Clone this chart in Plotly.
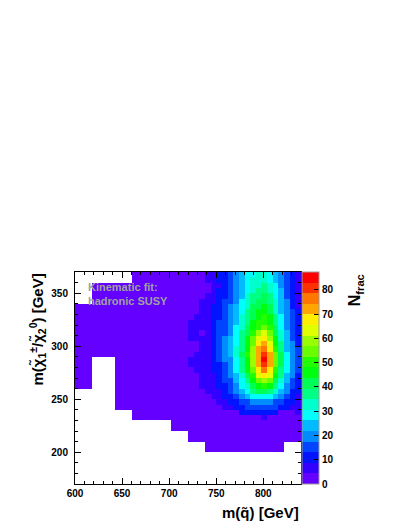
import colorsys
import plotly.graph_objects as go

# bin edges of the 2D histogram
m_squark_edges = [600, 606, 612, 618, 624, 630, 636, 642, 648, 654, 660, 666, 672, 678,
                  684, 690, 696, 702, 708, 714, 720, 726, 732, 738, 744, 750, 756, 762,
                  768, 774, 780, 786, 792, 798, 804, 810, 816, 822, 828, 834, 840]
m_chi_edges = [170, 175, 180, 185, 190, 195, 200, 205, 210, 215, 220, 225, 230, 235,
               240, 245, 250, 255, 260, 265, 270, 275, 280, 285, 290, 295, 300, 305,
               310, 315, 320, 325, 330, 335, 340, 345, 350, 355, 360, 365, 370]

o = None  # empty bin

# N_frac, one row per m(chi) bin, bottom (170 GeV) to top (370 GeV)
row_00 = [o] * 40
row_01 = [o] * 40
row_02 = [o] * 40
row_03 = [o] * 40
row_04 = [o] * 40
row_05 = [o] * 40
row_06 = [o] * 23 + [2] * 14 + [o] * 3
row_07 = [o] * 23 + [2] * 14 + [o] * 3
row_08 = [o] * 20 + [2] * 20
row_09 = [o] * 20 + [2] * 20
row_10 = [o] * 17 + [2] * 23
row_11 = [o] * 17 + [2] * 23
row_12 = [o] * 10 + [2] * 23 + [7] + [2] * 6
row_13 = [o] * 10 + [2] * 19 + [11, 11, 11, 11, 11, 11, 11, 2, 2, 2, 7]
row_14 = [o] * 7 + [2] * 13 + [2, 2, 2, 2, 2, 2, 7, 7, 11, 11, 15, 15, 15, 15, 15, 15, 11, 11, 7, 7]
row_15 = [o] * 7 + [2] * 13 + [2, 2, 2, 2, 2, 7, 7, 11, 11, 15, 15, 20, 20, 20, 20, 15, 15, 11, 11, 7]
row_16 = [o] * 7 + [2] * 13 + [2, 2, 2, 2, 7, 7, 11, 11, 15, 20, 24, 28, 28, 28, 28, 24, 20, 15, 11, 7]
row_17 = [o] * 7 + [2] * 13 + [2, 2, 2, 7, 7, 7, 11, 15, 20, 24, 28, 37, 41, 41, 37, 33, 24, 20, 11, 11]
row_18 = [2] * 3 + [o] * 4 + [2] * 13 + [2, 2, 7, 7, 7, 11, 11, 15, 20, 28, 33, 41, 46, 50, 46, 37, 28, 20, 15, 11]
row_19 = [2] * 3 + [o] * 4 + [2] * 13 + [2, 2, 7, 7, 7, 11, 15, 15, 24, 28, 37, 46, 55, 59, 55, 41, 33, 24, 15, 11]
row_20 = [2] * 3 + [o] * 4 + [2] * 13 + [2, 2, 7, 7, 7, 11, 15, 20, 24, 33, 41, 50, 63, 68, 63, 46, 37, 24, 20, 11]
row_21 = [2] * 3 + [o] * 4 + [2] * 13 + [2, 7, 7, 7, 11, 11, 15, 20, 28, 37, 46, 55, 68, 76, 68, 50, 37, 28, 20, 15]
row_22 = [2] * 3 + [o] * 4 + [2] * 13 + [7, 7, 7, 7, 11, 11, 15, 20, 28, 37, 46, 59, 72, 81, 72, 55, 41, 28, 20, 15]
row_23 = [2] * 3 + [o] * 4 + [2] * 13 + [7, 7, 7, 7, 11, 15, 20, 20, 28, 37, 46, 59, 72, 87.4, 72, 55, 41, 28, 20, 15]
row_24 = [2] * 20 + [2, 7, 7, 7, 11, 15, 20, 24, 33, 41, 50, 59, 72, 81, 72, 55, 41, 28, 20, 15]
row_25 = [2] * 20 + [2, 2, 7, 7, 11, 15, 20, 24, 33, 37, 46, 59, 72, 76, 68, 50, 37, 24, 20, 15]
row_26 = [2] * 20 + [2, 2, 7, 7, 11, 15, 20, 24, 28, 37, 46, 55, 68, 72, 63, 46, 37, 24, 20, 11]
row_27 = [2] * 20 + [7, 7, 7, 7, 11, 15, 20, 24, 28, 37, 46, 55, 63, 68, 59, 46, 33, 24, 15, 11]
row_28 = [2] * 20 + [7, 7, 2, 7, 11, 15, 15, 20, 28, 37, 41, 50, 59, 63, 55, 41, 33, 24, 15, 11]
row_29 = [2] * 20 + [7, 7, 7, 7, 11, 15, 15, 20, 28, 33, 41, 46, 50, 55, 50, 41, 28, 20, 15, 11]
row_30 = [2] * 20 + [7, 7, 7, 7, 11, 15, 15, 20, 24, 33, 37, 46, 50, 50, 46, 37, 28, 20, 15, 11]
row_31 = [2] * 20 + [2, 7, 7, 7, 11, 11, 15, 20, 24, 33, 37, 41, 46, 50, 46, 37, 28, 20, 15, 11]
row_32 = [2] * 20 + [2, 2, 7, 7, 11, 11, 15, 20, 24, 28, 37, 41, 46, 46, 41, 33, 24, 20, 15, 11]
row_33 = [2] * 20 + [2, 2, 7, 7, 11, 11, 15, 20, 24, 28, 33, 41, 41, 46, 41, 33, 24, 20, 11, 7]
row_34 = [o] * 3 + [2] * 17 + [2, 2, 7, 7, 7, 11, 15, 15, 20, 28, 33, 37, 41, 41, 37, 33, 24, 20, 11, 7]
row_35 = [o] * 3 + [2] * 17 + [2, 2, 2, 7, 7, 11, 11, 15, 20, 24, 33, 37, 37, 41, 37, 28, 24, 15, 11, 7]
row_36 = [o] * 3 + [2] * 17 + [2, 2, 2, 2, 7, 11, 11, 15, 20, 24, 28, 33, 37, 37, 33, 28, 24, 15, 11, 7]
row_37 = [o] * 3 + [2] * 17 + [2, 2, 2, 2, 7, 7, 11, 15, 20, 24, 28, 33, 33, 37, 33, 28, 20, 15, 11, 7]
row_38 = [o] * 10 + [2] * 10 + [2, 2, 2, 7, 7, 11, 11, 15, 20, 24, 28, 33, 33, 33, 28, 24, 20, 15, 11, 7]
row_39 = [o] * 10 + [2] * 10 + [2, 2, 2, 7, 7, 11, 11, 15, 20, 24, 28, 28, 33, 33, 28, 24, 20, 15, 11, 7]

n_frac = [row_00, row_01, row_02, row_03, row_04, row_05, row_06, row_07, row_08, row_09,
          row_10, row_11, row_12, row_13, row_14, row_15, row_16, row_17, row_18, row_19,
          row_20, row_21, row_22, row_23, row_24, row_25, row_26, row_27, row_28, row_29,
          row_30, row_31, row_32, row_33, row_34, row_35, row_36, row_37, row_38, row_39]

z_max = 87.4
z_ticks = [0, 10, 20, 30, 40, 50, 60, 70, 80]

# ROOT "pretty" palette (SetPalette(1)) sampled on 20 contour levels
n_levels = 20
scale = []
for k in range(n_levels):
    idx = int((k + 0.99) * 50 / n_levels)
    hue = 280 - (idx + 1) * 280 / 50
    r, g, b = colorsys.hls_to_rgb(hue / 360, 0.5, 1.0)
    col = "rgb(%d,%d,%d)" % (round(r * 255), round(g * 255), round(b * 255))
    scale.append([k / n_levels, col])
    scale.append([(k + 1) / n_levels, col])

font = "Liberation Sans, Arial, Helvetica, sans-serif"

fig = go.Figure()
fig.add_trace(go.Heatmap(
    x=m_squark_edges,
    y=m_chi_edges,
    z=n_frac,
    zmin=0,
    zmax=z_max,
    colorscale=scale,
    hoverinfo="skip",
    colorbar=dict(
        x=1.005, xanchor="left", xpad=0, y=0.5, yanchor="middle", ypad=0,
        len=1, thickness=17,
        tickvals=z_ticks, ticks="inside", ticklen=5, tickcolor="black",
        tickfont=dict(family=font, size=10, color="black", weight="bold"),
        outlinewidth=1, outlinecolor="#999999",
    ),
))

axis_style = dict(
    showline=True, linecolor="black", linewidth=1, mirror="ticks",
    ticks="inside", ticklen=6, tickcolor="black", tickwidth=1,
    showgrid=False, zeroline=False,
    tickfont=dict(family=font, size=10, color="black", weight="bold"),
)

fig.update_xaxes(range=[600, 840], tick0=600, dtick=50,
                 minor=dict(ticks="inside", ticklen=3, dtick=10, tick0=600, tickcolor="black"),
                 **axis_style)
fig.update_yaxes(range=[170, 370], tick0=200, dtick=50, ticklabelstandoff=4,
                 minor=dict(ticks="inside", ticklen=3, dtick=10, tick0=200, tickcolor="black"),
                 **axis_style)

fig.add_annotation(text="m(q\u0303) [GeV]", xref="paper", yref="paper",
                   x=1.0, y=-0.085, xanchor="right", yanchor="top", showarrow=False,
                   font=dict(family=font, size=15, color="black", weight="bold"))
fig.add_annotation(text="m(\u03c7\u0303<sub>1</sub><sup>\u00b1</sup>/\u03c7\u0303<sub>2</sub><sup>0</sup>) [GeV]",
                   xref="paper", yref="paper", x=-0.17, y=1.0, xanchor="center", yanchor="top",
                   textangle=-90, showarrow=False,
                   font=dict(family=font, size=15, color="black", weight="bold"))
fig.add_annotation(text="N<sub>frac</sub>", xref="paper", yref="paper",
                   x=1.24, y=1.0, xanchor="center", yanchor="top",
                   textangle=-90, showarrow=False,
                   font=dict(family=font, size=16, color="black", weight="bold"))
fig.add_annotation(text="Kinematic fit:<br>hadronic SUSY", xref="paper", yref="paper",
                   x=0.05, y=0.965, xanchor="left", yanchor="top", align="left",
                   showarrow=False,
                   font=dict(family=font, size=11, color="#a0a0a0", weight="bold"))

# the page body adds an 8 px offset, so the figure is 8 px smaller on each side
fig.update_layout(
    width=399, height=519,
    margin=dict(l=67, r=106, t=264, b=43),
    paper_bgcolor="white", plot_bgcolor="white",
    showlegend=False,
)

fig.write_html("out.html")
